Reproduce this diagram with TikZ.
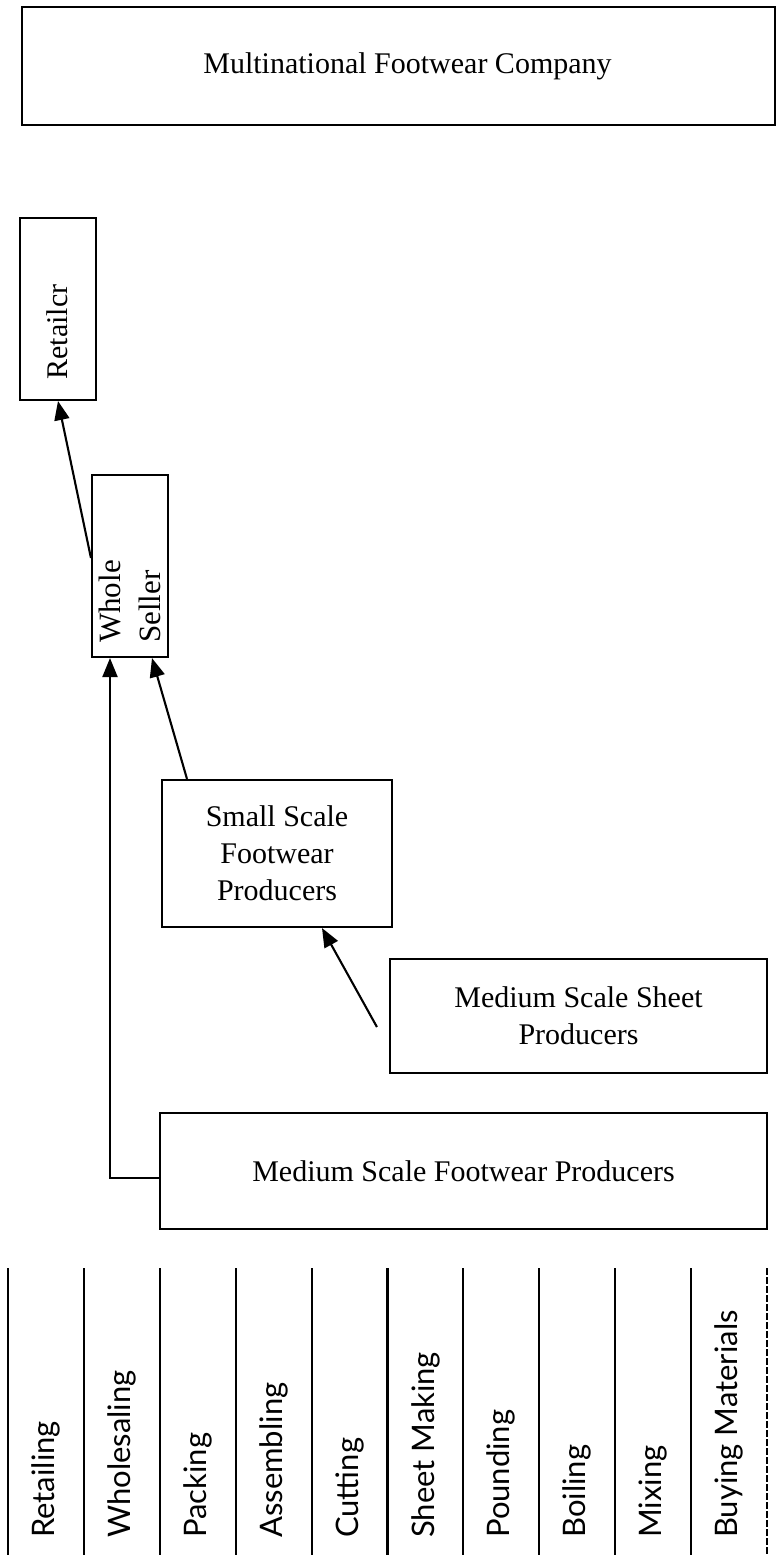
\documentclass[tikz,border=0pt]{standalone}
\usepackage{fontspec}
\setmainfont{Liberation Serif}
\newfontfamily\labfont{Lato}
\usetikzlibrary{arrows.meta,calc}
\begin{document}
\begin{tikzpicture}[x=1pt,y=-1pt,
  box/.style={draw, line width=2.1pt, rectangle, inner sep=0pt},
  boxtext/.style={font=\fontsize{30}{37}\selectfont, align=center},
  arr/.style={line width=2.1pt, -{Triangle[length=19pt,width=15pt]}},
  col/.style={line width=2.1pt},
  lab/.style={font=\labfont\fontsize{31}{36}\selectfont, rotate=90, anchor=west, inner sep=0pt}]
\useasboundingbox (0,0) rectangle (777,1555);
\fill[white] (0,0) rectangle (777,1555);

\node[box, minimum width=753pt, minimum height=118pt, boxtext] (mnc) at (398.5,66) {\hspace*{18pt}Multinational Footwear Company};

\node[box, minimum width=76pt, minimum height=182pt] (ret) at (58,309) {};
\node[boxtext, rotate=90, inner sep=0pt] (rett) at (57,332) {Retailcr};

\node[box, minimum width=76pt, minimum height=182pt] (ws) at (130,566) {};
\node[font=\fontsize{31}{40}\selectfont, align=left, rotate=90, anchor=west, inner sep=0pt] (wst) at (130,643) {Whole\\Seller};

\node[box, minimum width=230pt, minimum height=147pt, boxtext] (ssf) at (277,853.5) {Small Scale\\Footwear\\Producers};

\node[box, minimum width=377pt, minimum height=114pt, boxtext] (mss) at (578.5,1016) {Medium Scale Sheet\\Producers};

\node[box, minimum width=607pt, minimum height=116pt, boxtext] (msf) at (463.5,1171) {Medium Scale Footwear Producers};

\draw[arr] ([yshift=8pt]ws.west) -- (ret.south);
\draw[arr] ([xshift=-90pt]ssf.north) -- ([xshift=22pt]ws.south);
\draw[arr] ([xshift=-12pt,yshift=-11pt]mss.west) -- ([xshift=45pt]ssf.south);
\draw[arr] ([yshift=-7pt]msf.west) -| ([xshift=-20pt]ws.south);

\foreach \i in {0,...,9} \draw[col] ({8+\i*75.9},1268) -- ({8+\i*75.9},1555);
\draw[line width=1.4pt, dash pattern=on 7pt off 2pt] (767,1268) -- (767,1555);

\foreach \t [count=\i] in {Retailing, Wholesaling, Packing, Assembling, Cutting, Sheet Making, Pounding, Boiling, Mixing, Buying Materials}
  \node[lab] (lab\i) at ({8+(\i-0.5)*75.9},1538) {\t};
\end{tikzpicture}
\end{document}
